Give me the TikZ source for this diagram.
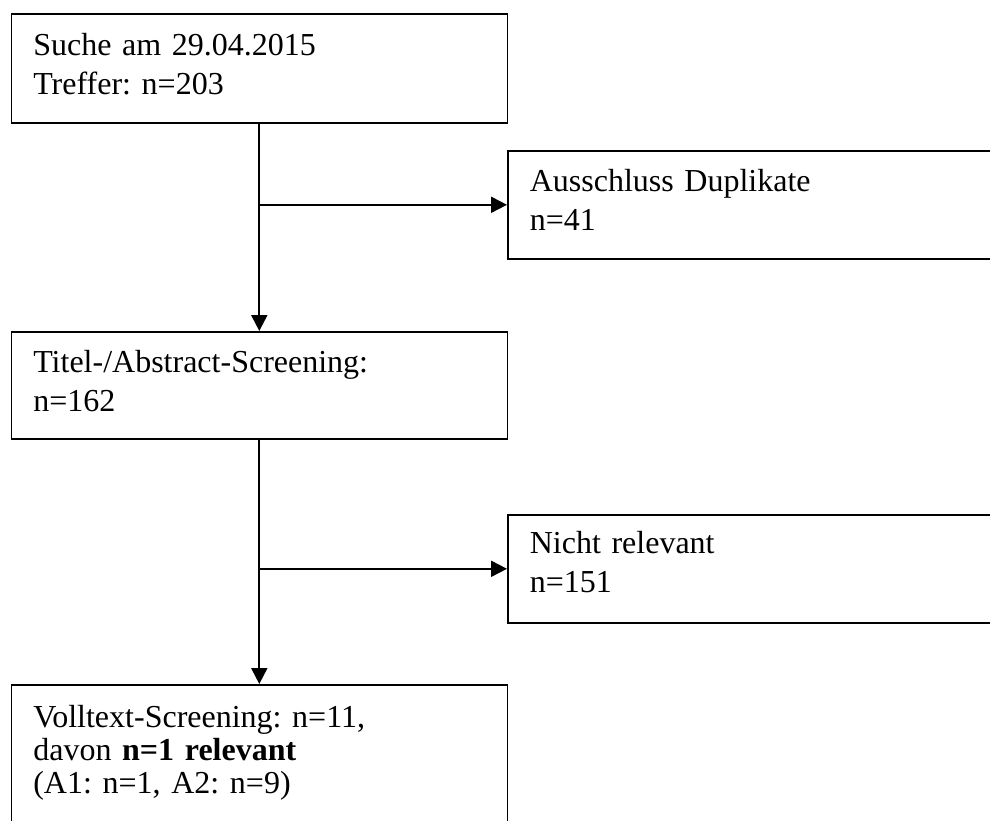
\documentclass[tikz,border=0pt]{standalone}
\usepackage{fontspec}
\setmainfont{Liberation Serif}
\frenchspacing
\usetikzlibrary{positioning}
\usetikzlibrary{arrows.meta}
\tikzset{
  box/.style            = { rectangle, anchor=north west, align=left, inner xsep=11pt, inner ysep=0pt },
  border/.style         = { draw=black, line width=0.8pt },
}
\tikzset{
  stage/.style          = { box, border, text width=226pt, font=\fontsize{16}{19.5}\selectfont },
  excluded/.style       = { box, border, text width=228pt, font=\fontsize{16}{19.5}\selectfont },
  result/.style         = { stage, font=\fontsize{16}{16.5}\selectfont },
}

\begin{document}
\begin{tikzpicture}[
  x=0.5pt,y=-0.5pt,
  >={Triangle[length=8pt,width=8pt]},line width=1pt,black
]
  \useasboundingbox (0,0) rectangle (990,820);
  \clip (0,0) rectangle (990,820);

  \node (suche)    [stage,text height=21pt,text depth=33.5pt]    at (10.5,13)  {Suche am 29.04.2015\\Treffer: n=203};
  \node (dupl)     [excluded,text height=20.5pt,text depth=33.5pt] at (507,150)  {Ausschluss Duplikate\\n=41};
  \node (titel)    [stage,text height=20.5pt,text depth=33pt]    at (10.5,331) {Titel-/Abstract-Screening:\\n=162};
  \node (nrel)     [excluded,text height=19.5pt,text depth=34.5pt] at (507,514)  {Nicht relevant\\n=151};
  \node (volltext) [result,text height=21.5pt,text depth=60pt]   at (10.5,684) {Volltext-Screening: n=11,\\davon \textbf{n=1 relevant}\\(A1: n=1, A2: n=9)};

  \draw [->] (suche)                   -- (titel);
  \draw [->] (suche.south |- dupl.west) -- (dupl.west);
  \draw [->] (titel.south)             -- (titel.south |- volltext.north);
  \draw [->] (titel.south |- nrel.west) -- (nrel.west);
\end{tikzpicture}
\end{document}
